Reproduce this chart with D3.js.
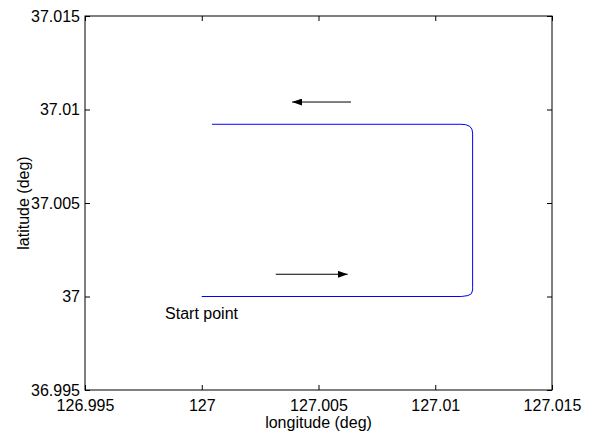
<!DOCTYPE html>
<html>
<head>
<meta charset="utf-8">
<script src="https://cdn.jsdelivr.net/npm/d3@7"></script>
<style>
  body { margin: 0; background: #fff; }
  svg { display: block; font-family: 'Liberation Sans', Arial, sans-serif; }
</style>
</head>
<body>
<div id="chart"></div>
<script>
// trajectory (longitude, latitude)
const trackLon = [127.0, 127.01112, 127.0114, 127.01155, 127.0116, 127.0116,
  127.0116, 127.01157, 127.01148, 127.0113, 127.0111, 127.00044]
const trackLat = [37.0, 37.0, 37.00005, 37.00015, 37.00035, 37.00046,
  37.00874, 37.00895, 37.0091, 37.00919, 37.00921, 37.00921]

// direction arrows: [fromLon, fromLat, toLon, toLat]
const arrows = [
  [127.00317, 37.00119, 127.00625, 37.00119],
  [127.00639, 37.0104, 127.00387, 37.0104]
]

const startLabel = { lon: 126.99843, lat: 36.9988, text: 'Start point' }

const xTicks = [126.995, 127, 127.005, 127.01, 127.015]
const xTickLabels = ['126.995', '127', '127.005', '127.01', '127.015']
const yTicks = [36.995, 37, 37.005, 37.01, 37.015]
const yTickLabels = ['36.995', '37', '37.005', '37.01', '37.015']

const W = 594, H = 437
const m = { left: 85, right: 42, top: 16, bottom: 47 }
const iw = W - m.left - m.right, ih = H - m.top - m.bottom

const svg = d3.select('#chart').append('svg')
  .attr('width', W).attr('height', H)

svg.append('defs').append('marker')
  .attr('id', 'head')
  .attr('viewBox', '0 0 10 7')
  .attr('refX', 10).attr('refY', 3.5)
  .attr('markerWidth', 10).attr('markerHeight', 7)
  .attr('markerUnits', 'userSpaceOnUse')
  .attr('orient', 'auto')
  .append('path').attr('d', 'M0,0L10,3.5L0,7Z').attr('fill', '#000')

const g = svg.append('g').attr('transform', `translate(${m.left},${m.top})`)

const x = d3.scaleLinear().domain([126.995, 127.015]).range([0, iw])
const y = d3.scaleLinear().domain([36.995, 37.015]).range([ih, 0])

const fs = '16px'

// axes, ticks pointing inward on all four sides
const xb = g.append('g').attr('transform', `translate(0,${ih})`)
  .call(d3.axisBottom(x).tickValues(xTicks).tickFormat((d, i) => xTickLabels[i])
    .tickSizeInner(-5).tickSizeOuter(0).tickPadding(10))
const xt = g.append('g')
  .call(d3.axisTop(x).tickValues(xTicks).tickFormat('').tickSizeInner(-5).tickSizeOuter(0))
const yl = g.append('g')
  .call(d3.axisLeft(y).tickValues(yTicks).tickFormat((d, i) => yTickLabels[i])
    .tickSizeInner(-5).tickSizeOuter(0).tickPadding(5))
const yr = g.append('g').attr('transform', `translate(${iw},0)`)
  .call(d3.axisRight(y).tickValues(yTicks).tickFormat('').tickSizeInner(-5).tickSizeOuter(0))

;[xb, xt, yl, yr].forEach(a => {
  a.select('.domain').remove()
  a.selectAll('text').style('font-size', fs).attr('fill', '#000')
  a.selectAll('line').attr('stroke', '#000')
})

g.append('rect')
  .attr('width', iw).attr('height', ih)
  .attr('fill', 'none').attr('stroke', '#000').attr('stroke-width', 1)

// trajectory
const line = d3.line().x(d => x(d[0])).y(d => y(d[1]))
g.append('path')
  .datum(trackLon.map((v, i) => [v, trackLat[i]]))
  .attr('d', line)
  .attr('fill', 'none').attr('stroke', '#0000ff').attr('stroke-width', 1)

g.selectAll('.arrow').data(arrows).enter().append('line')
  .attr('class', 'arrow')
  .attr('x1', d => x(d[0])).attr('y1', d => y(d[1]))
  .attr('x2', d => x(d[2])).attr('y2', d => y(d[3]))
  .attr('stroke', '#000').attr('stroke-width', 1)
  .attr('marker-end', 'url(#head)')

g.append('text')
  .attr('x', x(startLabel.lon)).attr('y', y(startLabel.lat))
  .style('font-size', fs)
  .text(startLabel.text)

// axis titles
svg.append('text')
  .attr('x', m.left + iw / 2).attr('y', 428)
  .attr('text-anchor', 'middle').style('font-size', fs)
  .text('longitude (deg)')

svg.append('text')
  .attr('transform', `translate(29,${m.top + ih / 2}) rotate(-90)`)
  .attr('text-anchor', 'middle').style('font-size', fs)
  .text('latitude (deg)')
</script>
</body>
</html>
